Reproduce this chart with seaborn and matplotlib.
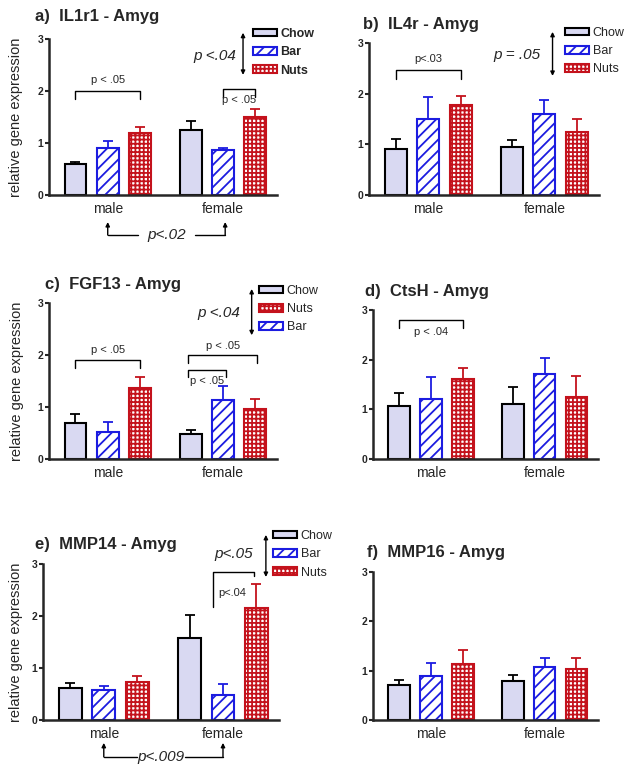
import numpy as np
import pandas as pd
import seaborn as sns
import matplotlib.pyplot as plt
from matplotlib.patches import Patch

sexes = ["male", "female"]
diets = ["Chow", "Bar", "Nuts"]

# order of values: male Chow, Bar, Nuts, female Chow, Bar, Nuts
il1r1_mean = [0.60, 0.91, 1.19, 1.25, 0.87, 1.50]
il1r1_sem = [0.03, 0.12, 0.11, 0.18, 0.04, 0.16]
il4r_mean = [0.91, 1.50, 1.78, 0.94, 1.60, 1.25]
il4r_sem = [0.20, 0.44, 0.18, 0.15, 0.27, 0.25]
fgf13_mean = [0.70, 0.51, 1.36, 0.48, 1.13, 0.96]
fgf13_sem = [0.16, 0.21, 0.21, 0.08, 0.27, 0.19]
ctsh_mean = [1.07, 1.21, 1.62, 1.10, 1.71, 1.24]
ctsh_sem = [0.25, 0.45, 0.22, 0.34, 0.32, 0.43]
mmp14_mean = [0.61, 0.57, 0.74, 1.58, 0.49, 2.16]
mmp14_sem = [0.10, 0.09, 0.11, 0.43, 0.20, 0.46]
mmp16_mean = [0.71, 0.89, 1.14, 0.80, 1.08, 1.03]
mmp16_sem = [0.10, 0.26, 0.28, 0.12, 0.18, 0.22]

sns.set_style("ticks")
plt.rcParams["font.family"] = ["Liberation Sans", "DejaVu Sans"]
plt.rcParams["hatch.linewidth"] = 1.3

styles = {
    "Chow": dict(face="#D9D9F2", edge="black", hatch=None),
    "Bar": dict(face="white", edge="#1C1CE0", hatch="///"),
    "Nuts": dict(face="white", edge="#C4121C", hatch="++++"),
}
palette = {d: styles[d]["face"] for d in diets}

W, H = 631, 775
fig = plt.figure(figsize=(W / 100, H / 100), dpi=100)


def px_axes(x0, x1, y3, y0):
    # axes rectangle from reference pixel positions
    return fig.add_axes([x0 / W, 1 - y0 / H, (x1 - x0) / W, (y0 - y3) / H])


def draw_panel(ax, means, sems, ylabel=True):
    df = pd.DataFrame({"sex": np.repeat(sexes, 3), "diet": diets * 2, "expr": means})
    sns.barplot(data=df, x="sex", y="expr", hue="diet", order=sexes, hue_order=diets,
                palette=palette, width=0.84, gap=0.32, errorbar=None, legend=False, ax=ax)
    bars = list(ax.containers[:3])
    for i, diet in enumerate(diets):
        st = styles[diet]
        for j, bar in enumerate(bars[i]):
            bar.set_facecolor(st["face"])
            bar.set_edgecolor(st["edge"])
            bar.set_hatch(st["hatch"])
            bar.set_linewidth(1.5)
            x = bar.get_x() + bar.get_width() / 2
            ax.errorbar(x, bar.get_height(), yerr=[[0], [sems[j * 3 + i]]], fmt="none",
                        ecolor=st["edge"], elinewidth=1.3, capsize=3.5, capthick=1.3, zorder=0.9)
    ax.set_xlim(-0.51, 1.47)
    ax.set_ylim(0, 3)
    ax.set_yticks([0, 1, 2, 3])
    sns.despine(ax=ax)
    for s in ["left", "bottom"]:
        ax.spines[s].set_linewidth(1.8)
    ax.tick_params(axis="y", labelsize=7.5, length=3, width=1.5, pad=1)
    for lab in ax.get_yticklabels():
        lab.set_fontweight("bold")
    ax.tick_params(axis="x", labelsize=10, length=0, pad=5)
    ax.set_xlabel("")
    if ylabel:
        ax.set_ylabel("relative gene expression", fontsize=10.5)
    else:
        ax.set_ylabel("")


def legend(ax, order, x, y, bold=False):
    handles = [Patch(facecolor=styles[d]["face"], edgecolor=styles[d]["edge"],
                     hatch=styles[d]["hatch"], linewidth=1.5) for d in order]
    ax.legend(handles, order, loc="upper left", bbox_to_anchor=(x / W, 1 - y / H),
              bbox_transform=fig.transFigure, frameon=False, borderpad=0, borderaxespad=0,
              handlelength=1.9, handleheight=0.55, handletextpad=0.3, labelspacing=0.5,
              prop=dict(size=9, weight="bold" if bold else "normal"))


def bracket(ax, x0, x1, y, ylo0, ylo1, label=None, ly=None, lx=None, size=8):
    ax.plot([x0, x0, x1, x1], [ylo0, y, y, ylo1], color="black", lw=1, clip_on=False)
    if label:
        ax.text((x0 + x1) / 2 if lx is None else lx, ly, label, ha="center", va="center",
                fontsize=size)


def vert_arrow(ax, x, ytop, ybot, label, lx, ly):
    ax.annotate("", xy=(x, ytop), xytext=(x, ybot), annotation_clip=False,
                arrowprops=dict(arrowstyle="<|-|>", color="black", lw=1, mutation_scale=6,
                                shrinkA=0, shrinkB=0))
    ax.text(lx, ly, label, ha="right", va="center", fontsize=11, style="italic")


def sex_arrows(ax, xl, xr, ytip, yline, gap0, gap1, label):
    ax.plot([xl, gap0], [yline, yline], color="black", lw=1, clip_on=False)
    ax.plot([gap1, xr], [yline, yline], color="black", lw=1, clip_on=False)
    for x in (xl, xr):
        ax.annotate("", xy=(x, ytip), xytext=(x, yline), annotation_clip=False,
                    arrowprops=dict(arrowstyle="-|>", color="black", lw=1, mutation_scale=6,
                                    shrinkA=0, shrinkB=0))
    ax.text((gap0 + gap1) / 2, yline, label, ha="center", va="center", fontsize=11,
            style="italic")


# a) IL1r1
ax_a = px_axes(49, 277, 39, 195)
draw_panel(ax_a, il1r1_mean, il1r1_sem)
bracket(ax_a, -0.28, 0.28, 2.0, 1.84, 1.84, "p < .05", ly=2.21)
bracket(ax_a, 1.0, 1.28, 2.03, 1.89, 1.89, "p < .05", ly=1.82)
vert_arrow(ax_a, 1.175, 3.12, 2.31, "p <.04", 1.12, 2.67)
sex_arrows(ax_a, 0.0, 1.02, -0.52, -0.77, 0.26, 0.76, "p<.02")
legend(ax_a, ["Chow", "Bar", "Nuts"], 253, 28, bold=True)
fig.text(35 / W, 1 - 17 / H, "a)  IL1r1 - Amyg", fontsize=12, fontweight="bold", va="center")

# b) IL4r
ax_b = px_axes(369, 599, 43, 195)
draw_panel(ax_b, il4r_mean, il4r_sem, ylabel=False)
bracket(ax_b, -0.28, 0.28, 2.47, 2.29, 2.29, "p<.03", ly=2.68)
vert_arrow(ax_b, 1.07, 3.22, 2.35, "p = .05", 0.97, 2.76)
legend(ax_b, ["Chow", "Bar", "Nuts"], 565, 27)
fig.text(363 / W, 1 - 25 / H, "b)  IL4r - Amyg", fontsize=12, fontweight="bold", va="center")

# c) FGF13
ax_c = px_axes(49, 277, 303, 459)
draw_panel(ax_c, fgf13_mean, fgf13_sem)
bracket(ax_c, -0.28, 0.28, 1.90, 1.75, 1.75, "p < .05", ly=2.10)
bracket(ax_c, 0.70, 1.30, 2.0, 1.85, 1.85, "p < .05", ly=2.17)
bracket(ax_c, 0.70, 1.03, 1.71, 1.58, 1.58, "p < .05", ly=1.50, lx=0.86)
vert_arrow(ax_c, 1.25, 3.27, 2.38, "p <.04", 1.15, 2.81)
legend(ax_c, ["Chow", "Nuts", "Bar"], 259, 285)
fig.text(45 / W, 1 - 285 / H, "c)  FGF13 - Amyg", fontsize=12, fontweight="bold", va="center")

# d) CtsH
ax_d = px_axes(373, 598, 310, 459)
draw_panel(ax_d, ctsh_mean, ctsh_sem, ylabel=False)
bracket(ax_d, -0.28, 0.28, 2.80, 2.64, 2.64, "p < .04", ly=2.55)
fig.text(365 / W, 1 - 292 / H, "d)  CtsH - Amyg", fontsize=12, fontweight="bold", va="center")

# e) MMP14
ax_e = px_axes(43, 279, 564, 720)
draw_panel(ax_e, mmp14_mean, mmp14_sem)
vert_arrow(ax_e, 1.36, 3.56, 2.75, "p<.05", 1.25, 3.19)
bracket(ax_e, 0.92, 1.26, 2.85, 2.17, 2.77, "p<.04", ly=2.44, lx=1.08)
sex_arrows(ax_e, 0.0, 1.0, -0.44, -0.71, 0.28, 0.68, "p<.009")
legend(ax_e, ["Chow", "Bar", "Nuts"], 273, 530)
fig.text(35 / W, 1 - 545 / H, "e)  MMP14 - Amyg", fontsize=12, fontweight="bold", va="center")

# f) MMP16
ax_f = px_axes(373, 598, 572, 720)
draw_panel(ax_f, mmp16_mean, mmp16_sem, ylabel=False)
fig.text(367 / W, 1 - 553 / H, "f)  MMP16 - Amyg", fontsize=12, fontweight="bold", va="center")

for ax, xl in [(ax_a, -0.112), (ax_c, -0.108), (ax_e, -0.083)]:
    ax.yaxis.set_label_coords(xl, 0.5)

fig.savefig("out.png", dpi=100)
